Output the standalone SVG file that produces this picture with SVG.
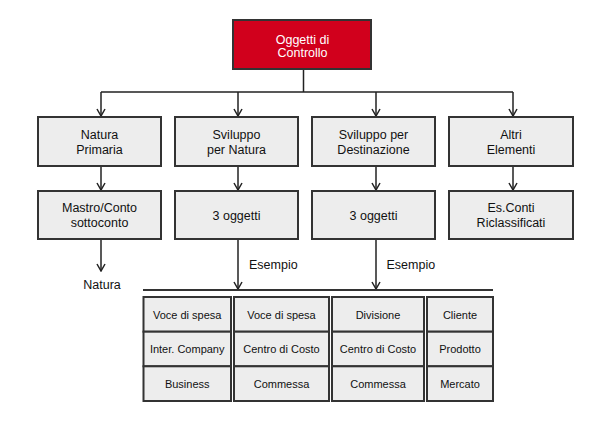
<svg xmlns="http://www.w3.org/2000/svg" width="600" height="426" viewBox="0 0 600 426">
<defs>
<style>
.box{fill:#ededed;stroke:#333;stroke-width:2}
.red{fill:#d1001c;stroke:#333;stroke-width:2}
.t{font-family:"Liberation Sans",Arial,sans-serif;font-size:12.5px;fill:#111;text-anchor:middle}
.tw{font-family:"Liberation Sans",Arial,sans-serif;font-size:12.5px;fill:#fff;text-anchor:middle}
.ts{font-family:"Liberation Sans",Arial,sans-serif;font-size:11px;fill:#111;text-anchor:middle}
.tl{font-family:"Liberation Sans",Arial,sans-serif;font-size:12.5px;fill:#111}
.c{fill:none;stroke:#222;stroke-width:1.5}
.bar{fill:none;stroke:#333;stroke-width:2}
</style>
<marker id="arr" viewBox="0 0 10 10" refX="9" refY="5" markerWidth="10" markerHeight="10" markerUnits="userSpaceOnUse" orient="auto">
<path d="M2 1 L9 5 L2 9" fill="none" stroke="#222" stroke-width="1.5"/>
</marker>
</defs>
<rect width="600" height="426" fill="#fff"/>

<g id="connectors">
<path class="c" d="M303.5 69 V92 M101 92 H513"/>
<path class="c" d="M101 92 V116" marker-end="url(#arr)"/>
<path class="c" d="M238 92 V116" marker-end="url(#arr)"/>
<path class="c" d="M376 92 V116" marker-end="url(#arr)"/>
<path class="c" d="M513 92 V116" marker-end="url(#arr)"/>
<path class="c" d="M101 166 V190" marker-end="url(#arr)"/>
<path class="c" d="M238 166 V190" marker-end="url(#arr)"/>
<path class="c" d="M376 166 V190" marker-end="url(#arr)"/>
<path class="c" d="M513 166 V190" marker-end="url(#arr)"/>
<path class="c" d="M101 240 V271" marker-end="url(#arr)"/>
<path class="c" d="M238 240 V289" marker-end="url(#arr)"/>
<path class="c" d="M376 240 V289" marker-end="url(#arr)"/>
<path class="bar" d="M143 290 H493"/>
<text class="tl" x="249" y="268.5">Esempio</text>
<text class="tl" x="386.5" y="268.5">Esempio</text>
</g>

<g id="root">
<rect class="red" x="233" y="20" width="138" height="49"/>
<text class="tw" x="302.5" y="43.5">Oggetti di</text>
<text class="tw" x="302.5" y="56.5">Controllo</text>
</g>

<g id="natura-primaria">
<rect class="box" x="38" y="117" width="123" height="49"/>
<text class="t" x="99.5" y="138.5">Natura</text>
<text class="t" x="99.5" y="153.5">Primaria</text>
</g>
<g id="sviluppo-natura">
<rect class="box" x="175" y="117" width="123" height="49"/>
<text class="t" x="236.5" y="138.5">Sviluppo</text>
<text class="t" x="236.5" y="153.5">per Natura</text>
</g>
<g id="sviluppo-destinazione">
<rect class="box" x="312" y="117" width="123" height="49"/>
<text class="t" x="373.5" y="138.5">Sviluppo per</text>
<text class="t" x="373.5" y="153.5">Destinazione</text>
</g>
<g id="altri-elementi">
<rect class="box" x="449" y="117" width="124" height="49"/>
<text class="t" x="511" y="138.5">Altri</text>
<text class="t" x="511" y="153.5">Elementi</text>
</g>

<g id="mastro">
<rect class="box" x="38" y="191" width="123" height="48"/>
<text class="t" x="99.5" y="212">Mastro/Conto</text>
<text class="t" x="99.5" y="227">sottoconto</text>
</g>
<g id="oggetti-natura">
<rect class="box" x="175" y="191" width="123" height="48"/>
<text class="t" x="236.5" y="220">3 oggetti</text>
</g>
<g id="oggetti-destinazione">
<rect class="box" x="312" y="191" width="123" height="48"/>
<text class="t" x="373.5" y="220">3 oggetti</text>
</g>
<g id="es-conti">
<rect class="box" x="449" y="191" width="124" height="48"/>
<text class="t" x="511" y="212">Es.Conti</text>
<text class="t" x="511" y="227">Riclassificati</text>
</g>

<g id="natura-label">
<text class="t" x="102" y="288.5">Natura</text>
</g>

<g id="col-1">
<rect class="box" x="143.5" y="297" width="87.5" height="34.7"/>
<rect class="box" x="143.5" y="331.7" width="87.5" height="34.6"/>
<rect class="box" x="143.5" y="366.3" width="87.5" height="34.7"/>
<text class="ts" x="187.2" y="319">Voce di spesa</text>
<text class="ts" x="187.2" y="353">Inter. Company</text>
<text class="ts" x="187.2" y="388">Business</text>
</g>
<g id="col-2">
<rect class="box" x="234" y="297" width="95" height="34.7"/>
<rect class="box" x="234" y="331.7" width="95" height="34.6"/>
<rect class="box" x="234" y="366.3" width="95" height="34.7"/>
<text class="ts" x="281.5" y="319">Voce di spesa</text>
<text class="ts" x="281.5" y="353">Centro di Costo</text>
<text class="ts" x="281.5" y="388">Commessa</text>
</g>
<g id="col-3">
<rect class="box" x="332" y="297" width="92" height="34.7"/>
<rect class="box" x="332" y="331.7" width="92" height="34.6"/>
<rect class="box" x="332" y="366.3" width="92" height="34.7"/>
<text class="ts" x="378" y="319">Divisione</text>
<text class="ts" x="378" y="353">Centro di Costo</text>
<text class="ts" x="378" y="388">Commessa</text>
</g>
<g id="col-4">
<rect class="box" x="427" y="297" width="66" height="34.7"/>
<rect class="box" x="427" y="331.7" width="66" height="34.6"/>
<rect class="box" x="427" y="366.3" width="66" height="34.7"/>
<text class="ts" x="460" y="319">Cliente</text>
<text class="ts" x="460" y="353">Prodotto</text>
<text class="ts" x="460" y="388">Mercato</text>
</g>
</svg>
